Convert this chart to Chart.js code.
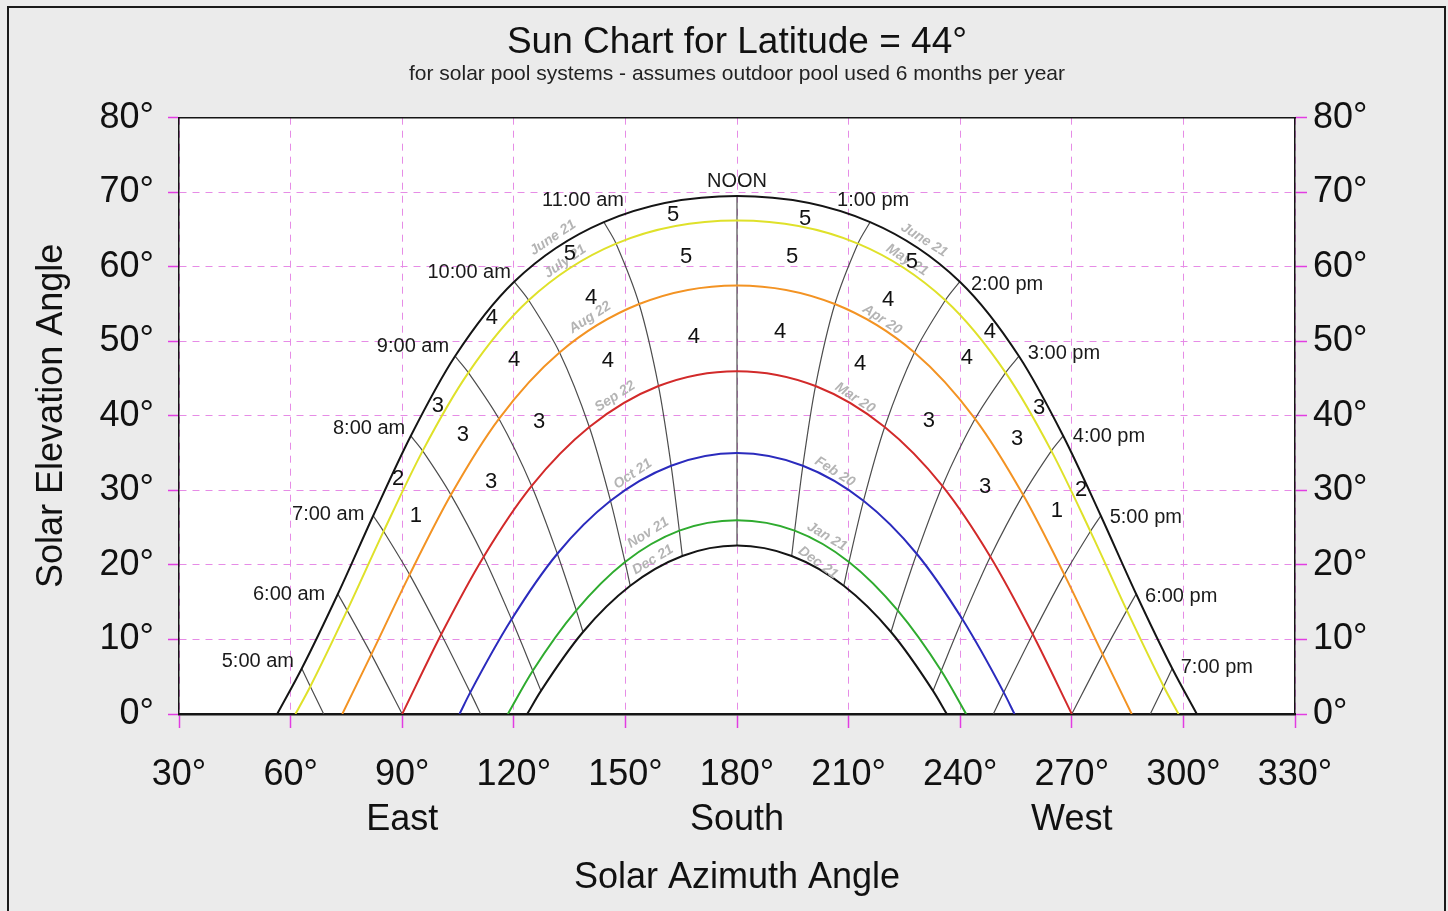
<!DOCTYPE html>
<html>
<head>
  <meta charset="utf-8">
  <title>Sun Chart for Latitude = 44°</title>
  <script src="https://cdn.jsdelivr.net/npm/chart.js"></script>
  <style>
    html, body { margin: 0; padding: 0; background: #ebebeb; overflow: hidden; }
    #wrap { position: absolute; left: 0; top: 0; width: 1448px; height: 911px; }
    #frame { position: absolute; left: 7px; top: 6px; width: 1439px; height: 920px; border: 2px solid #1a1a1a; border-bottom: none; box-sizing: border-box; pointer-events: none; }
  </style>
</head>
<body>
  <div id="wrap"><canvas id="sun-chart"></canvas></div>
  <div id="frame"></div>

  <script>
    // hours along each sun path, 5 am .. 7 pm (solar time)
    let hourLabels = ["5:00 am", "6:00 am", "7:00 am", "8:00 am", "9:00 am", "10:00 am", "11:00 am", "NOON",
                      "1:00 pm", "2:00 pm", "3:00 pm", "4:00 pm", "5:00 pm", "6:00 pm", "7:00 pm"];

    // sun position (azimuth, elevation) at each hour, null = sun below horizon
    let jun21Az  = [63.0, 72.7, 82.2, 92.3, 104.2, 120.1, 144.2, 180, 215.8, 239.9, 255.8, 267.7, 277.8, 287.3, 297.0];
    let jun21Alt = [6.1, 16.1, 26.6, 37.3, 48.0, 58.0, 66.0, 69.5, 66.0, 58.0, 48.0, 37.3, 26.6, 16.1, 6.1];
    let may21Az  = [65.3, 75.2, 85.0, 95.5, 107.8, 124.0, 147.5, 180, 212.5, 236.0, 252.2, 264.5, 275.0, 284.8, 294.7];
    let may21Alt = [3.7, 13.9, 24.5, 35.3, 45.8, 55.5, 63.1, 66.2, 63.1, 55.5, 45.8, 35.3, 24.5, 13.9, 3.7];
    let apr20Az  = [null, 81.7, 92.0, 103.1, 116.0, 132.3, 153.7, 180, 206.3, 227.7, 244.0, 256.9, 268.0, 278.3, null];
    let apr20Alt = [null, 8.0, 18.7, 29.4, 39.6, 48.5, 55.0, 57.5, 55.0, 48.5, 39.6, 29.4, 18.7, 8.0, null];
    let mar20Az  = [null, null, 100.5, 111.9, 124.8, 140.3, 158.9, 180, 201.1, 219.7, 235.2, 248.1, 259.5, null, null];
    let mar20Alt = [null, null, 10.7, 21.1, 30.6, 38.5, 44.0, 46.0, 44.0, 38.5, 30.6, 21.1, 10.7, null, null];
    let feb20Az  = [null, null, 108.3, 119.4, 131.7, 146.0, 162.3, 180, 197.7, 214.0, 228.3, 240.6, 251.7, null, null];
    let feb20Alt = [null, null, 2.9, 12.7, 21.5, 28.6, 33.3, 35.0, 33.3, 28.6, 21.5, 12.7, 2.9, null, null];
    let jan21Az  = [null, null, null, 125.1, 136.8, 149.9, 164.5, 180, 195.5, 210.1, 223.2, 234.9, null, null, null];
    let jan21Alt = [null, null, null, 5.8, 13.9, 20.4, 24.6, 26.0, 24.6, 20.4, 13.9, 5.8, null, null, null];
    let dec21Az  = [null, null, null, 127.3, 138.6, 151.3, 165.3, 180, 194.7, 208.7, 221.4, 232.7, null, null, null];
    let dec21Alt = [null, null, null, 3.1, 11.0, 17.2, 21.2, 22.6, 21.2, 17.2, 11.0, 3.1, null, null, null];

    // sunrise / sunset azimuths, same order as the paths
    let sunriseAz = [56.4, 61.3, 73.9, 90, 105.4, 118.4, 123.6];
    let sunsetAz  = [303.6, 298.7, 286.1, 270, 254.6, 241.6, 236.4];
    // where an hour line reaches the horizon (between two paths)
    let hourHorizonAz = [68.9, 90, 111.1, null, null, null, null, null, null, null, null, null, 248.9, 270, 291.1];

    let pathNames  = ["June 21", "May 21 / July 21", "Apr 20 / Aug 22", "Mar 20 / Sep 22", "Feb 20 / Oct 21", "Jan 21 / Nov 21", "Dec 21"];
    let pathColors = ["#151515", "#dfe12a", "#f39323", "#d22a2a", "#2b2bbd", "#2fab2f", "#151515"];
    let pathAz  = [jun21Az, may21Az, apr20Az, mar20Az, feb20Az, jan21Az, dec21Az];
    let pathAlt = [jun21Alt, may21Alt, apr20Alt, mar20Alt, feb20Alt, jan21Alt, dec21Alt];

    // collector rating numbers in the cells
    let ratingText = ["5", "5", "5", "4", "4", "4", "4", "4", "3", "3", "3", "3", "2", "1",
                      "5", "5", "5", "4", "4", "4", "4", "4", "3", "3", "3", "3", "2", "1"];
    let ratingAz  = [162.8, 135.1, 166.3, 114.1, 140.8, 120.1, 145.3, 168.4, 99.6, 106.3, 126.8, 113.9, 88.9, 93.7,
                     198.3, 194.8, 227.0, 220.6, 191.6, 213.1, 248.0, 241.8, 261.2, 231.6, 255.3, 246.7, 272.5, 266.0];
    let ratingAlt = [67.0, 61.7, 61.3, 53.2, 55.8, 47.5, 47.4, 50.6, 41.3, 37.4, 39.2, 31.1, 31.5, 26.6,
                     66.4, 61.3, 60.7, 55.6, 51.3, 47.0, 51.3, 47.8, 41.1, 39.3, 36.9, 30.5, 30.1, 27.2];

    // hour captions
    let hourLabelAz  = [51.2, 59.6, 70.1, 81.1, 92.9, 108.0, 138.6, 180, 216.6, 252.6, 267.9, 280.0, 289.9, 299.4, 309.0];
    let hourLabelAlt = [7.1, 16.1, 26.8, 38.3, 49.3, 59.3, 68.9, 71.5, 68.9, 57.6, 48.3, 37.2, 26.4, 15.7, 6.2];

    // date captions along the paths
    let dateText = ["June 21", "July 21", "Aug 22", "Sep 22", "Oct 21", "Nov 21", "Dec 21",
                    "June 21", "May 21", "Apr 20", "Mar 20", "Feb 20", "Jan 21", "Dec 21"];
    let dateAz  = [130.5, 133.8, 140.5, 147.2, 152.0, 156.1, 157.4, 230.3, 225.7, 219.0, 211.7, 206.3, 204.2, 201.8];
    let dateAlt = [63.9, 60.7, 53.2, 42.6, 32.2, 24.3, 20.7, 63.6, 60.9, 52.9, 42.4, 32.5, 23.8, 20.3];
    let dateAngle = [-34, -35, -33, -33, -34, -32, -31, 32, 33, 33, 33, 32, 31, 36];

    let compassAz = [90, 180, 270];
    let compassNames = ["East", "South", "West"];

    Chart.defaults.font.family = "'Liberation Sans', Arial, sans-serif";
    Chart.defaults.color = "#111";

    function sunPath(i) {
      let pts = [{x: sunriseAz[i], y: 0}];
      pathAz[i].forEach((az, h) => {
        if (az !== null) pts.push({x: az, y: pathAlt[i][h]});
      });
      pts.push({x: sunsetAz[i], y: 0});
      return pts;
    }

    function hourLine(h) {
      let pts = [];
      pathAz.forEach((azs, i) => {
        if (azs[h] !== null) pts.push({x: azs[h], y: pathAlt[i][h]});
      });
      if (hourHorizonAz[h] !== null) pts.push({x: hourHorizonAz[h], y: 0});
      return pts;
    }

    let datasets = [];
    pathNames.forEach((name, i) => {
      datasets.push({
        label: name,
        data: sunPath(i),
        showLine: true,
        borderColor: pathColors[i],
        borderWidth: 2,
        pointRadius: 0,
        cubicInterpolationMode: "monotone"
      });
    });
    hourLabels.forEach((name, h) => {
      datasets.push({
        label: name,
        data: hourLine(h),
        showLine: true,
        borderColor: "#4d4d4d",
        borderWidth: 1.2,
        pointRadius: 0,
        tension: 0.3
      });
    });

    let areaFill = {
      id: "areaFill",
      beforeDraw(chart) {
        let {ctx, chartArea: a} = chart;
        ctx.save();
        ctx.fillStyle = "#ffffff";
        ctx.fillRect(a.left, a.top, a.width, a.height);
        ctx.restore();
      }
    };

    let sunLabels = {
      id: "sunLabels",
      afterDatasetsDraw(chart) {
        let {ctx, scales: {x, y}} = chart;
        let fam = Chart.defaults.font.family;
        ctx.save();
        ctx.textAlign = "center";
        ctx.textBaseline = "middle";

        ctx.fillStyle = "#b4b4b4";
        ctx.font = "italic bold 14px " + fam;
        dateText.forEach((t, i) => {
          ctx.save();
          ctx.translate(x.getPixelForValue(dateAz[i]), y.getPixelForValue(dateAlt[i]));
          ctx.rotate(dateAngle[i] * Math.PI / 180);
          ctx.fillText(t, 0, 0);
          ctx.restore();
        });

        ctx.fillStyle = "#111";
        ctx.font = "22px " + fam;
        ratingText.forEach((t, i) => {
          ctx.fillText(t, x.getPixelForValue(ratingAz[i]), y.getPixelForValue(ratingAlt[i]));
        });

        ctx.fillStyle = "#1a1a1a";
        ctx.font = "20px " + fam;
        hourLabels.forEach((t, i) => {
          ctx.fillText(t, x.getPixelForValue(hourLabelAz[i]), y.getPixelForValue(hourLabelAlt[i]));
        });
        ctx.restore();
      }
    };

    let gridColor = "#e68ce6";
    let tickColor = "#e23ce2";

    new Chart(document.getElementById("sun-chart"), {
      type: "scatter",
      data: { datasets: datasets },
      options: {
        responsive: true,
        maintainAspectRatio: false,
        animation: false,
        events: [],
        layout: { padding: 0 },
        plugins: {
          legend: { display: false },
          tooltip: { enabled: false },
          title: {
            display: true,
            fullSize: false,
            text: "Sun Chart for Latitude = 44°",
            color: "#111",
            font: { size: 37, weight: "normal", lineHeight: 1.1 },
            padding: { top: 22, bottom: 0 }
          },
          subtitle: {
            display: true,
            fullSize: false,
            text: "for solar pool systems - assumes outdoor pool used 6 months per year",
            color: "#222",
            font: { size: 21, lineHeight: 1.0 },
            padding: { top: 1, bottom: 0 }
          }
        },
        scales: {
          x: {
            type: "linear",
            position: "bottom",
            min: 30,
            max: 330,
            ticks: {
              stepSize: 30,
              padding: 25,
              font: { size: 36, lineHeight: 1.25 },
              callback: (v) => {
                let k = compassAz.indexOf(v);
                return k >= 0 ? [v + "°", compassNames[k]] : v + "°";
              }
            },
            grid: { color: gridColor, lineWidth: 1, tickLength: 14, tickColor: tickColor, tickWidth: 1.5 },
            border: { color: "#151515", width: 2.5, dash: [7, 6] },
            title: { display: true, text: "Solar Azimuth Angle", font: { size: 36 }, padding: { top: 0, bottom: 11 } },
            afterFit: (s) => { s.height = 197; }
          },
          x2: {
            type: "linear",
            position: "top",
            min: 30,
            max: 330,
            ticks: { display: false },
            grid: { drawOnChartArea: false, drawTicks: false },
            border: { color: "#151515", width: 1.5 },
            afterFit: (s) => { s.height = 33; }
          },
          y: {
            position: "left",
            min: 0,
            max: 80,
            ticks: { stepSize: 10, padding: 14, font: { size: 36 }, callback: (v) => v + "°" },
            grid: { color: gridColor, lineWidth: 1, tickLength: 11, tickColor: tickColor, tickWidth: 1.5 },
            border: { color: "#151515", width: 1.5, dash: [7, 6] },
            title: { display: true, text: "Solar Elevation Angle", font: { size: 36 }, padding: { top: 30, bottom: 0 } },
            afterFit: (s) => { s.width = 179; }
          },
          y2: {
            position: "right",
            min: 0,
            max: 80,
            ticks: { stepSize: 10, padding: 6, font: { size: 36 }, callback: (v) => v + "°" },
            grid: { drawOnChartArea: false, tickLength: 12, tickColor: tickColor, tickWidth: 1.5 },
            border: { color: "#151515", width: 1.5 },
            afterFit: (s) => { s.width = 153; }
          }
        }
      },
      plugins: [areaFill, sunLabels]
    });
  </script>
</body>
</html>
